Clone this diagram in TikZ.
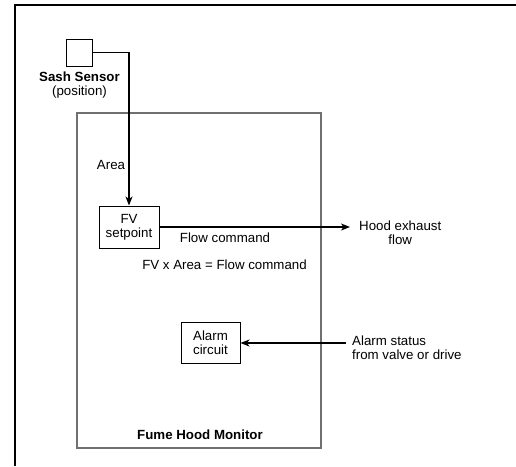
\documentclass[tikz,border=0pt]{standalone}
\usepackage{fontspec}
\setmainfont{Liberation Sans}
\usepackage{xcolor}
\usepackage{tikz}
\usetikzlibrary{arrows.meta, positioning, calc}
\definecolor{monitorGray}{RGB}{112, 112, 112}

\begin{document}
\begin{tikzpicture}[
    x=1pt, y=-1pt,
    font=\fontsize{13.3}{14}\selectfont,
    box/.style={rectangle, draw=black, line width=1pt, align=center, inner sep=0pt},
    txt/.style={align=center, inner sep=2pt},
    arrow/.style={-{Stealth[length=9pt, width=7pt, inset=2.5pt]}, line width=1.1pt}
]
\useasboundingbox (0,0) rectangle (516,466);

% Outer frame
\draw[line width=2.2pt] (15,466) -- (15,5) -- (516,5);

% Monitor
\draw[draw=monitorGray, line width=1.2pt] (77,113) rectangle (321,448);
\node[txt, font=\fontsize{13.3}{14}\selectfont\bfseries] (monitor) at (200,435) {Fume Hood Monitor};

% Sash sensor
\node[box, minimum width=26pt, minimum height=27pt] (sensor) at (79.5,52.5) {};
\node[txt, below=3pt of sensor] (sensorlbl) {\textbf{Sash Sensor}\\(position)};

% FV setpoint
\node[box, minimum width=60pt, minimum height=42pt] (fv) at (129,227) {FV\\setpoint};
\node[txt] (area) at (111,165) {Area};
\node[txt] (flowcmd) at (225,238) {Flow command};
\node[txt] (formula) at (224.5,265) {FV x Area = Flow command};
\node[txt, anchor=west, inner xsep=9pt] (hood) at (350,233) {Hood exhaust\\flow};

% Alarm
\node[box, minimum width=59pt, minimum height=41pt] (alarm) at (210.5,343) {Alarm\\circuit};
\node[txt, anchor=west, align=left, inner xsep=6pt] (status) at (346,347.5) {Alarm status\\from valve or drive};

% Arrows
\draw[arrow] (sensor.east) -| (fv.north);
\draw[arrow] (fv.east) -- (fv.east -| hood.west);
\draw[arrow] (alarm.east -| status.west) -- (alarm.east);

\end{tikzpicture}
\end{document}
